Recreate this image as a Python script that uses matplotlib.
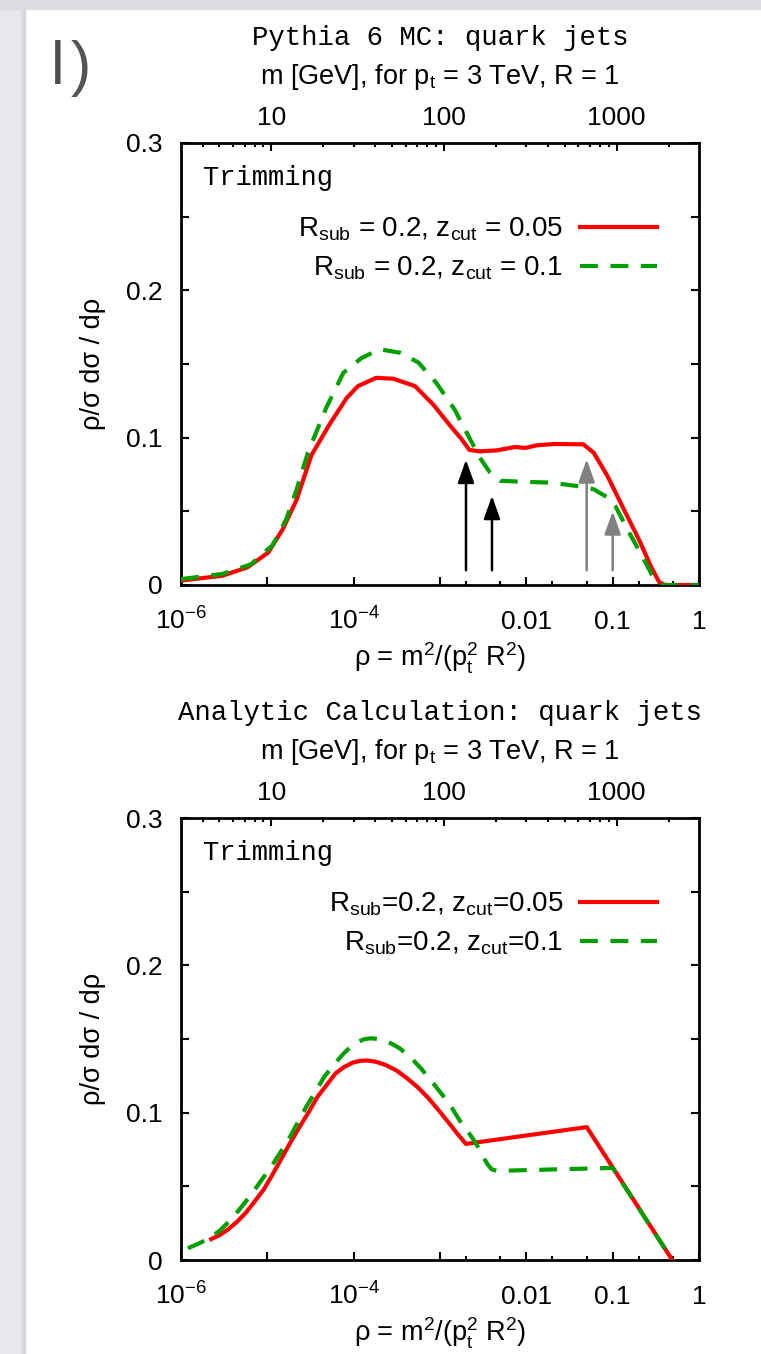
import numpy as np
import matplotlib
matplotlib.use("Agg")
import matplotlib.pyplot as plt
from matplotlib.lines import Line2D
from matplotlib.patches import Rectangle
from matplotlib.ticker import NullFormatter

# Pythia 6 MC, log10(rho) and rho/sigma dsigma/drho
mc_lrho_z005 = [-6.00, -5.52, -5.23, -4.99, -4.82, -4.66, -4.49, -4.28, -4.08, -3.95,
                -3.74, -3.54, -3.29, -3.08, -2.88, -2.75, -2.66, -2.54, -2.34, -2.13,
                -2.01, -1.88, -1.68, -1.34, -1.22, -1.06, -0.89, -0.68, -0.56, -0.46,
                -0.39, 0.00]
mc_val_z005 = [0.0030, 0.0063, 0.012, 0.022, 0.038, 0.058, 0.088, 0.109, 0.127, 0.135,
               0.1406, 0.140, 0.135, 0.1226, 0.108, 0.099, 0.0917, 0.0907, 0.0914, 0.0937,
               0.093, 0.0948, 0.0957, 0.0955, 0.0898, 0.074, 0.0537, 0.0289, 0.013, 0.0018,
               0.0, 0.0]
mc_lrho_z01 = [-6.00, -5.52, -5.19, -4.94, -4.78, -4.66, -4.53, -4.32, -4.12, -3.91,
               -3.70, -3.46, -3.25, -3.04, -2.83, -2.67, -2.54, -2.42, -2.30, -2.01,
               -1.72, -1.39, -1.22, -1.06, -0.97, -0.81, -0.64, -0.52, -0.43, 0.00]
mc_val_z01 = [0.0040, 0.0075, 0.014, 0.027, 0.0447, 0.065, 0.0898, 0.120, 0.144, 0.154,
              0.160, 0.1576, 0.151, 0.137, 0.119, 0.101, 0.0865, 0.0763, 0.0707, 0.070,
              0.0695, 0.067, 0.065, 0.0594, 0.0537, 0.0357, 0.0176, 0.004, 0.0, 0.0]

# analytic calculation
an_lrho_z005 = [-5.65, -5.55, -5.46, -5.35, -5.25, -5.15, -5.04, -4.94, -4.84, -4.74,
                -4.63, -4.52, -4.42, -4.31, -4.21, -4.11, -4.01, -3.92, -3.84, -3.74,
                -3.63, -3.50, -3.38, -3.25, -3.13, -3.01, -2.89, -2.80, -2.70, -1.30,
                -0.31]
an_val_z005 = [0.0142, 0.017, 0.0205, 0.026, 0.032, 0.0395, 0.048, 0.058, 0.0685, 0.079,
               0.090, 0.1005, 0.1107, 0.119, 0.1267, 0.131, 0.134, 0.1352, 0.1354, 0.1345,
               0.1324, 0.1285, 0.1233, 0.1168, 0.1096, 0.1012, 0.0925, 0.0858, 0.0788, 0.0902,
               0.0]
an_lrho_z01 = [-5.92, -5.80, -5.67, -5.55, -5.42, -5.30, -5.17, -5.07, -4.96, -4.86,
               -4.75, -4.65, -4.55, -4.44, -4.34, -4.23, -4.13, -4.04, -3.96, -3.88,
               -3.80, -3.72, -3.65, -3.56, -3.47, -3.34, -3.22, -3.10, -2.97, -2.86,
               -2.76, -2.67, -2.59, -2.51, -2.45, -2.40, -2.34, -1.00, -0.31]
an_val_z01 = [0.008, 0.011, 0.0148, 0.020, 0.0274, 0.036, 0.0457, 0.054, 0.0628, 0.072,
              0.0822, 0.093, 0.1039, 0.1145, 0.1244, 0.1325, 0.1393, 0.1445, 0.1478, 0.1498,
              0.1505, 0.1500, 0.149, 0.1468, 0.1438, 0.1375, 0.130, 0.1215, 0.1119, 0.1030,
              0.0936, 0.0865, 0.0799, 0.071, 0.065, 0.0615, 0.0605, 0.0625, 0.0]

# transition points marked in the MC panel
arrow_rho = [0.002, 0.004, 0.05, 0.1]
arrow_tip = [0.085, 0.0605, 0.0853, 0.050]
arrow_col = ["black", "black", "#808080", "#808080"]

x_ticks = [1e-6, 1e-5, 1e-4, 1e-3, 1e-2, 1e-1, 1]
x_ticklabels = [r"10$^{\mathregular{-6}}$", "", r"10$^{\mathregular{-4}}$", "", "0.01", "0.1", "1"]
x_minor = [0.002, 0.005, 0.02, 0.05, 0.2, 0.5]
m_ticks = [10, 100, 1000]
m_minor = [4, 5, 6, 7, 8, 9, 20, 30, 40, 50, 60, 70, 80, 90,
           200, 300, 400, 500, 600, 700, 800, 900, 2000]
y_ticks = [0, 0.1, 0.2, 0.3]
y_ticklabels = ["0", "0.1", "0.2", "0.3"]
y_minor = [0.05, 0.15, 0.25]

pt = 3000.0  # GeV, R = 1

plt.rcParams["font.family"] = "Liberation Sans"
plt.rcParams["mathtext.fontset"] = "custom"
plt.rcParams["mathtext.rm"] = "Liberation Sans"
plt.rcParams["mathtext.it"] = "Liberation Sans"

W, H = 761, 1354
fig = plt.figure(figsize=(W / 100, H / 100), dpi=100)

# grey frame around the page
fig.patches.append(Rectangle((0, 0), 25 / W, 1, transform=fig.transFigure,
                             color="#e7e8eb", zorder=-10))
fig.patches.append(Rectangle((22 / W, 0), 3 / W, 1, transform=fig.transFigure,
                             color="#d8d9dc", zorder=-9))
fig.patches.append(Rectangle((0, 1 - 9 / H), 1, 9 / H, transform=fig.transFigure,
                             color="#dcdde0", zorder=-8))
# panel letter
fig.text(51 / W, 1 - 84 / H, "l", fontsize=44, color="#4d4d4d", va="baseline")
fig.text(71 / W, 1 - 84 / H, ")", fontsize=44, color="#555555", va="baseline")

red = "#ff0000"
green = "#00a000"
dash = (4.3, 3.0)


def draw_panel(ax, title, lr_red, v_red, lr_green, v_green, labels):
    ax.set_xscale("log")
    ax.set_xlim(1e-6, 1)
    ax.set_ylim(0, 0.3)
    ax.plot(10 ** np.array(lr_red), v_red, color=red, lw=3, zorder=3)
    ax.plot(10 ** np.array(lr_green), v_green, color=green, lw=3, dashes=dash, zorder=4)

    ax.set_xticks(x_ticks, x_ticklabels)
    ax.set_xticks(x_minor, minor=True)
    ax.xaxis.set_minor_formatter(NullFormatter())
    ax.set_yticks(y_ticks, y_ticklabels)
    ax.set_yticks(y_minor, minor=True)
    ax.tick_params(axis="x", which="both", direction="in", top=False, width=1.5)
    ax.tick_params(axis="x", which="major", length=6, pad=32, labelsize=19)
    ax.tick_params(axis="x", which="minor", length=3)
    ax.tick_params(axis="y", which="both", direction="in", left=True, right=True,
                   length=6, width=1.5)
    ax.tick_params(axis="y", which="major", pad=13, labelsize=19)
    for lab in ax.get_xticklabels():
        lab.set_verticalalignment("baseline")
    for sp in ax.spines.values():
        sp.set_linewidth(2)

    ax.set_xlabel(r"$\mathregular{\rho}$ = m$^{\mathregular{2}}$/(p$_{\mathregular{t}}^{\mathregular{2}}$ R$^{\mathregular{2}}$)",
                  fontsize=19.5)
    ax.xaxis.set_label_coords(0.5, -0.127)
    ax.set_ylabel("ρ/σ dσ / dρ", fontsize=19.5)
    ax.yaxis.set_label_coords(-0.145, 0.5)

    # mass scale on the top edge
    axt = ax.twiny()
    axt.set_xscale("log")
    axt.set_xlim(pt * np.sqrt(1e-6), pt * np.sqrt(1.0))
    axt.set_xticks(m_ticks, [str(m) for m in m_ticks])
    axt.set_xticks(m_minor, minor=True)
    axt.xaxis.set_minor_formatter(NullFormatter())
    axt.tick_params(axis="x", which="both", direction="in", top=True, bottom=False, width=1.5)
    axt.tick_params(axis="x", which="major", length=6, pad=13, labelsize=19)
    axt.tick_params(axis="x", which="minor", length=3)
    for lab in axt.get_xticklabels():
        lab.set_verticalalignment("baseline")
    for sp in axt.spines.values():
        sp.set_visible(False)
    axt.set_xlabel(r"m [GeV], for p$_{\mathregular{t}}$ = 3 TeV, R = 1", fontsize=19.5)
    axt.xaxis.set_label_coords(0.5, 1.133)

    ax.text(0.5, 1.222, title, transform=ax.transAxes, ha="center", va="baseline",
            family="Liberation Mono", fontsize=19.7)
    ax.text(0.0425, 0.905, "Trimming", transform=ax.transAxes, ha="left", va="baseline",
            family="Liberation Mono", fontsize=19.5)

    handles = [Line2D([], [], color=red, lw=3),
               Line2D([], [], color=green, lw=3, dashes=dash)]
    ax.legend(handles, labels, loc="upper right", bbox_to_anchor=(0.919, 0.836),
              frameon=False, markerfirst=False, handlelength=2.77, handletextpad=0.61,
              borderpad=0, borderaxespad=0, labelspacing=0.41, fontsize=20)


ax1 = fig.add_axes([181 / W, 1 - 585 / H, 518 / W, 442 / H])
draw_panel(ax1, "Pythia 6 MC: quark jets", mc_lrho_z005, mc_val_z005,
           mc_lrho_z01, mc_val_z01,
           [r"R$_{\mathregular{sub}}$ = 0.2, z$_{\mathregular{cut}}$ = 0.05",
            r"R$_{\mathregular{sub}}$ = 0.2, z$_{\mathregular{cut}}$ = 0.1"])
for r, tip, c in zip(arrow_rho, arrow_tip, arrow_col):
    ax1.annotate("", xy=(r, tip), xytext=(r, 0.01),
                 arrowprops=dict(arrowstyle="-|>,head_length=0.7,head_width=0.25",
                                 color=c, lw=1.8, shrinkA=0, shrinkB=0,
                                 mutation_scale=20), zorder=5)

ax2 = fig.add_axes([181 / W, 1 - 1260 / H, 518 / W, 442 / H])
draw_panel(ax2, "Analytic Calculation: quark jets", an_lrho_z005, an_val_z005,
           an_lrho_z01, an_val_z01,
           [r"R$_{\mathregular{sub}}$=0.2, z$_{\mathregular{cut}}$=0.05",
            r"R$_{\mathregular{sub}}$=0.2, z$_{\mathregular{cut}}$=0.1"])

fig.savefig("out.png", dpi=100)
